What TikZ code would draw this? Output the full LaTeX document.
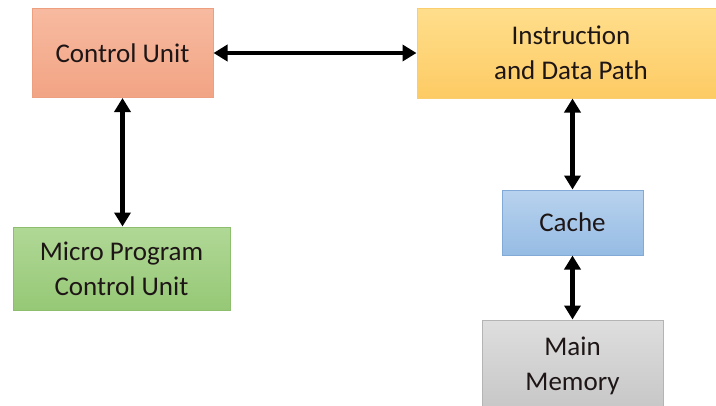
\documentclass[tikz,border=0pt]{standalone}
\usepackage{fontspec}
\setmainfont{Carlito}
\usetikzlibrary{arrows.meta, positioning}

\definecolor{cuTop}{RGB}{247,186,160}
\definecolor{cuBot}{RGB}{242,164,132}
\definecolor{cuLine}{RGB}{236,160,128}
\definecolor{dpTop}{RGB}{255,222,140}
\definecolor{dpBot}{RGB}{253,203,100}
\definecolor{dpLine}{RGB}{250,205,110}
\definecolor{mpTop}{RGB}{176,216,150}
\definecolor{mpBot}{RGB}{150,200,118}
\definecolor{mpLine}{RGB}{140,190,110}
\definecolor{caTop}{RGB}{184,210,238}
\definecolor{caBot}{RGB}{150,188,228}
\definecolor{caLine}{RGB}{130,170,215}
\definecolor{mmTop}{RGB}{222,222,222}
\definecolor{mmBot}{RGB}{198,198,198}
\definecolor{mmLine}{RGB}{180,180,180}
\definecolor{txt}{RGB}{30,22,22}

\begin{document}
\begin{tikzpicture}[
  x=1pt, y=-1pt,
  box/.style={
    draw,
    line width=1pt,
    align=center,
    inner sep=0pt,
    text=txt,
    font=\fontsize{27}{35}\selectfont
  },
  arrow/.style={{Triangle[length=14pt,width=16pt]}-{Triangle[length=14pt,width=16pt]}, line width=4.5pt}
]
\useasboundingbox (0,0) rectangle (716,405);

% Top row
\node[box, draw=cuLine, top color=cuTop, bottom color=cuBot,
  minimum width=181pt, minimum height=89pt] (cu) at (122.5,53) {Control Unit};
\node[box, draw=dpLine, top color=dpTop, bottom color=dpBot,
  minimum width=308pt, minimum height=90pt] (datapath) at (571,53)
  {Instruction\\and Data Path};

% Control side
\node[box, draw=mpLine, top color=mpTop, bottom color=mpBot,
  minimum width=217pt, minimum height=83pt] (microcu) at (121.5,268.5)
  {Micro Program\\Control Unit};

% Memory side
\node[box, draw=caLine, top color=caTop, bottom color=caBot,
  minimum width=141pt, minimum height=65pt] (cache) at (572.5,222.5) {Cache};
\node[box, draw=mmLine, top color=mmTop, bottom color=mmBot,
  minimum width=181pt, minimum height=92pt] (mainmem) at (572.5,366)
  {Main\\Memory};

% Arrows
\draw[arrow] (cu.east) -- (datapath.west);
\draw[arrow] (cu.south) -- (cu.south |- microcu.north);
\draw[arrow] (cache.north |- datapath.south) -- (cache.north);
\draw[arrow] (cache.south) -- (cache.south |- mainmem.north);

\end{tikzpicture}
\end{document}
